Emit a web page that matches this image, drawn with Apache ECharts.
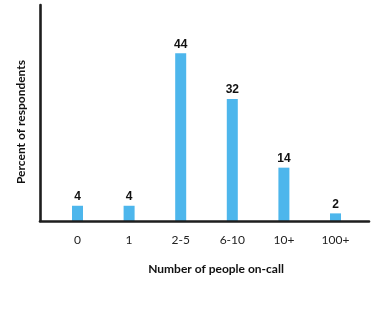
<!DOCTYPE html>
<html>
<head>
<meta charset="utf-8">
<script src="https://cdn.jsdelivr.net/npm/echarts@6/dist/echarts.min.js"></script>
<style>
html,body{margin:0;padding:0;background:#fff;}
#chart{width:387px;height:319px;}
</style>
</head>
<body>
<div id="chart"></div>
<script>
const categories = ['0', '1', '2-5', '6-10', '10+', '100+'];
const values = [4, 4, 44, 32, 14, 2];
const xAxisName = 'Number of people on-call';
const yAxisName = 'Percent of respondents';

const chart = echarts.init(document.getElementById('chart'), null, {renderer: 'canvas'});
chart.setOption({
  animation: false,
  backgroundColor: '#ffffff',
  grid: [
    {left: 40, right: 18, top: 5, bottom: 98},
    {left: 51.7, right: 25.7, top: 30.5, bottom: 98}
  ],
  xAxis: [
    {
      type: 'category', gridIndex: 0, data: categories,
      axisLine: {show: true, lineStyle: {color: '#1e1e1e', width: 2.6}},
      axisTick: {show: false}, axisLabel: {show: false},
      name: xAxisName, nameLocation: 'middle', nameGap: 42,
      nameTextStyle: {fontFamily: 'Lato', fontWeight: 'bold', fontSize: 12, color: '#111', padding: [0, 0, 0, 23]},
      z: 10
    },
    {
      type: 'category', gridIndex: 1, data: categories,
      axisLine: {show: false}, axisTick: {show: false},
      axisLabel: {show: true, margin: 13, fontFamily: 'Lato', fontSize: 12, color: '#222'}
    }
  ],
  yAxis: [
    {
      type: 'value', gridIndex: 0, min: 0, max: 1,
      axisLine: {show: true, lineStyle: {color: '#1e1e1e', width: 2.6}},
      axisTick: {show: false}, axisLabel: {show: false}, splitLine: {show: false},
      name: yAxisName, nameLocation: 'middle', nameGap: 13,
      nameTextStyle: {fontFamily: 'Lato', fontWeight: 'bold', fontSize: 12, color: '#111', padding: [0, 18, 0, 0]},
      z: 10
    },
    {
      type: 'value', gridIndex: 1, min: 0, max: 50,
      axisLine: {show: false}, axisTick: {show: false}, axisLabel: {show: false}, splitLine: {show: false}
    }
  ],
  series: [{
    type: 'bar', xAxisIndex: 1, yAxisIndex: 1,
    data: values, barWidth: 11,
    itemStyle: {color: '#4DB6EC'},
    label: {show: true, position: 'top', distance: 3, fontFamily: 'Liberation Sans', fontWeight: 'bold', fontSize: 12, color: '#111'}
  }]
});
</script>
</body>
</html>
